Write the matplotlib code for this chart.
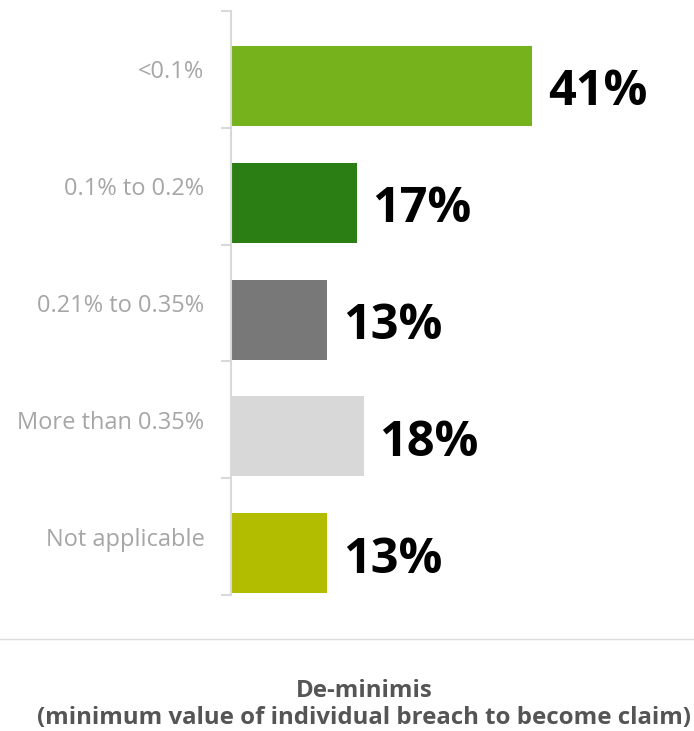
import matplotlib
matplotlib.use("Agg")
import matplotlib.pyplot as plt
from matplotlib.lines import Line2D

plt.rcParams['font.family'] = ['Open Sans', 'DejaVu Sans']

categories = ['<0.1%', '0.1% to 0.2%', '0.21% to 0.35%', 'More than 0.35%', 'Not applicable']
values = [41, 17, 13, 18, 13]
colors = ['#76b21c', '#2a7e14', '#787878', '#d8d8d8', '#b3bd00']

W, H = 694, 731
fig = plt.figure(figsize=(W / 100, H / 100), dpi=100)

# axes spans from the spine to the right edge
ax = fig.add_axes([231 / W, (H - 595) / H, (W - 231) / W, (595 - 11) / H])

n = len(categories)
ypos = [i + 0.642 for i in range(n)]
ax.barh(ypos, values, height=0.685, color=colors, left=0.15)

ax.set_xlim(0, 63.2)
ax.set_ylim(n, 0)

for y, v in zip(ypos, values):
    ax.annotate(f'{v}%', xy=(v, y), xytext=(12, -5), textcoords='offset points',
                ha='left', va='center', fontsize=35, fontweight='bold', color='black')

# category labels centred in each band, tick marks at band edges
ax.set_yticks([i + 0.5 for i in range(n)])
ax.set_yticklabels(categories, fontsize=17, color='#a6a6a6')
ax.tick_params(axis='y', which='major', length=0, pad=19)
ax.set_yticks(range(n + 1), minor=True)
ax.tick_params(axis='y', which='minor', length=7, width=1.5, color='#d9d9d9')

ax.set_xticks([])
for s in ['top', 'right', 'bottom']:
    ax.spines[s].set_visible(False)
ax.spines['left'].set_color('#d9d9d9')
ax.spines['left'].set_linewidth(1.5)

fig.add_artist(Line2D([0, 1], [(H - 639) / H] * 2, color='#dddddd', lw=1))

fig.text(364 / W, (H - 691) / H, 'De-minimis', ha='center', va='center',
         fontsize=17.3, fontweight='bold', color='#555555')
fig.text(364 / W, (H - 718) / H, '(minimum value of individual breach to become claim)',
         ha='center', va='center', fontsize=17.3, fontweight='bold', color='#555555')

fig.savefig('out.png', dpi=100)
